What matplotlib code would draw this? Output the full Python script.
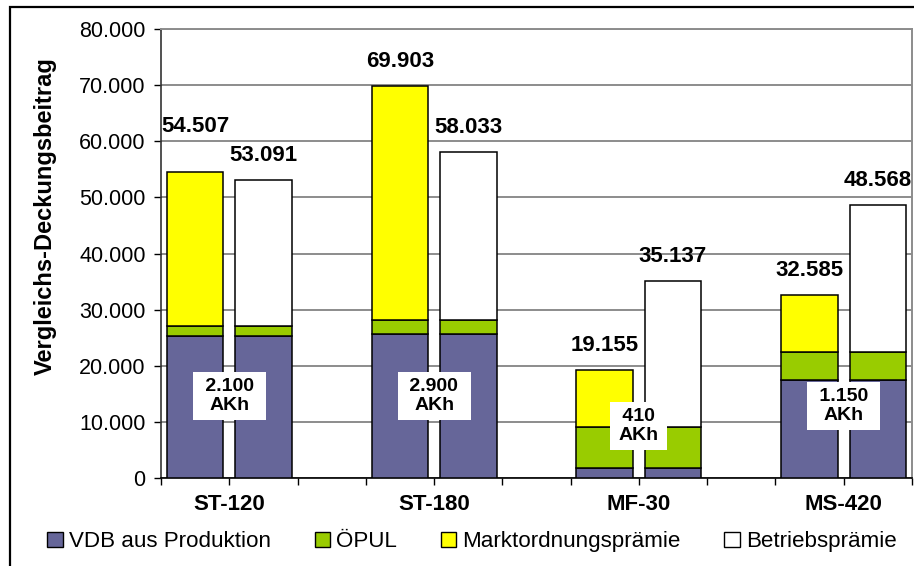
import numpy as np
import matplotlib
matplotlib.use('Agg')
import matplotlib.pyplot as plt
from matplotlib.patches import Patch, Rectangle
from matplotlib.ticker import FuncFormatter

plt.rcParams['font.family'] = ['Liberation Sans', 'DejaVu Sans']

# values
groups = ['ST-120', 'ST-180', 'MF-30', 'MS-420']
vdb = [25300, 25650, 1800, 17500]
oepul = [1750, 2550, 7250, 5000]
markt = [27457, 41703, 10105, 10085]
betrieb = [26041, 29833, 26087, 26068]
total_left = [54507, 69903, 19155, 32585]
total_right = [53091, 58033, 35137, 48568]
akh = ['2.100', '2.900', '410', '1.150']

# where the labels sit (data units)
label_left_y = [62570, 74260, 23670, 37000]
label_right_y = [57540, 62540, 39430, 53080]
akh_y = [14580, 14580, 9220, 12790]

C_VDB = '#666699'
C_OEPUL = '#99cc00'
C_MARKT = '#ffff00'
C_BETR = '#ffffff'


def dotted(v, pos):
    return f'{int(v):,}'.replace(',', '.')


fig = plt.figure(figsize=(9.14, 5.66), dpi=100)
ax = fig.add_axes([161 / 914, 1 - 477.7 / 566, (912 - 161) / 914, (477.7 - 29.3) / 566])

g = np.arange(len(groups))
x_left = 3 * g + 0.5
x_right = 3 * g + 1.5
w = 0.83
kw = dict(width=w, edgecolor='black', linewidth=1.1, zorder=3)

vdb = np.array(vdb)
oepul = np.array(oepul)
ax.bar(x_left, vdb, color=C_VDB, **kw)
ax.bar(x_left, oepul, bottom=vdb, color=C_OEPUL, **kw)
ax.bar(x_left, markt, bottom=vdb + oepul, color=C_MARKT, **kw)
ax.bar(x_right, vdb, color=C_VDB, **kw)
ax.bar(x_right, oepul, bottom=vdb, color=C_OEPUL, **kw)
ax.bar(x_right, betrieb, bottom=vdb + oepul, color=C_BETR, **kw)

for i in range(len(groups)):
    ax.text(x_left[i], label_left_y[i], dotted(total_left[i], None), ha='center', va='center',
            fontsize=16, fontweight='bold', zorder=5)
    ax.text(x_right[i], label_right_y[i], dotted(total_right[i], None), ha='center', va='center',
            fontsize=16, fontweight='bold', zorder=5)
    ax.text(3 * i + 1, akh_y[i], f' {akh[i]} \nAKh', ha='center', va='center', fontsize=14,
            fontweight='bold', linespacing=1.1, zorder=6,
            bbox=dict(facecolor='white', edgecolor='none', boxstyle='square,pad=0.35'))

ax.set_xlim(0, 11)
ax.set_ylim(0, 80000)
ax.set_yticks(np.arange(0, 80001, 10000))
ax.yaxis.set_major_formatter(FuncFormatter(dotted))
ax.set_xticks(np.arange(0, 12))
labels = [''] * 12
for i, name in enumerate(groups):
    labels[3 * i + 1] = name
ax.set_xticklabels(labels, fontsize=16, fontweight='bold')
ax.tick_params(axis='x', direction='out', length=5, width=1, pad=7)
ax.tick_params(axis='y', direction='out', length=5, width=1, pad=6, labelsize=15.5)

ax.grid(axis='y', color='#8c8c8c', linewidth=1.4, zorder=0)
ax.set_axisbelow(True)
ax.spines['top'].set_color('#8c8c8c')
ax.spines['top'].set_linewidth(1.4)
ax.spines['right'].set_color('#8c8c8c')
ax.spines['right'].set_linewidth(1.4)
ax.spines['left'].set_color('#333333')
ax.spines['left'].set_linewidth(1.2)
ax.spines['bottom'].set_linewidth(1.2)

fig.text(45 / 914, 1 - 216 / 566, 'Vergleichs-Deckungsbeitrag', rotation=90, ha='center',
         va='center', fontsize=17, fontweight='bold')

# outer chart frame (cut off at right and bottom)
fig.patches.append(Rectangle((10 / 914, -0.2), 1.2, 1.2 - 7 / 566, transform=fig.transFigure,
                             fill=False, edgecolor='black', linewidth=1.6))

handles = [Patch(facecolor=c, edgecolor='black', linewidth=1) for c in (C_VDB, C_OEPUL, C_MARKT, C_BETR)]
names = ['VDB aus Produktion', 'ÖPUL', 'Marktordnungsprämie', 'Betriebsprämie']
fig.legend(handles, names, loc='center', bbox_to_anchor=(472 / 914, 1 - 541.7 / 566), ncol=4,
           frameon=False, fontsize=16.1, handlelength=0.7, handleheight=0.7, handletextpad=0.27,
           columnspacing=1.95, borderaxespad=0)

fig.savefig('out.png', dpi=100)
